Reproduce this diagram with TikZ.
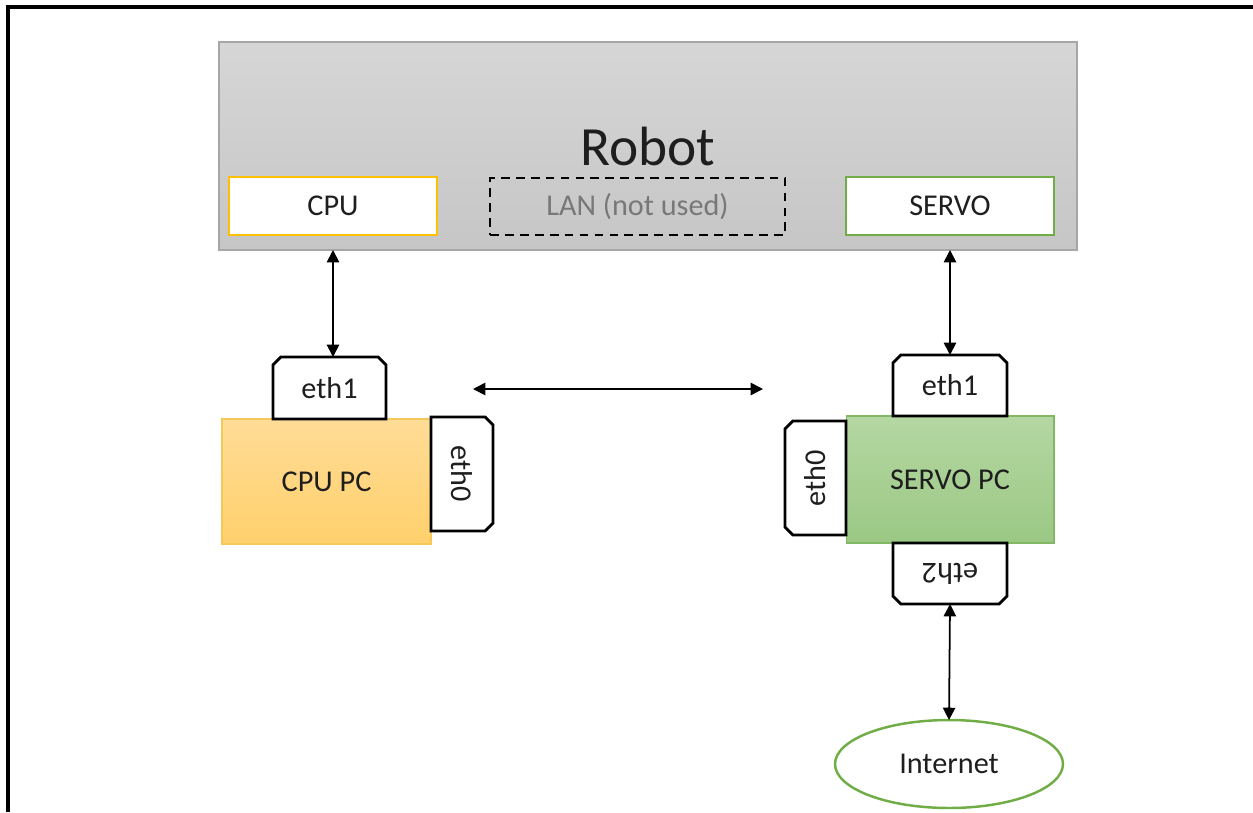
\documentclass[tikz,border=0pt]{standalone}
\usepackage{fontspec}
\setmainfont{Carlito}
\usepackage{graphicx}
\usetikzlibrary{arrows.meta,shapes.geometric}
\definecolor{robotedge}{RGB}{166,166,166}
\definecolor{robottop}{RGB}{214,214,214}
\definecolor{robotbot}{RGB}{198,198,198}
\definecolor{cpuedge}{RGB}{255,192,0}
\definecolor{cpupcedge}{RGB}{245,200,90}
\definecolor{cputop}{RGB}{255,220,150}
\definecolor{cpubot}{RGB}{255,208,108}
\definecolor{servoedge}{RGB}{112,173,71}
\definecolor{servopcedge}{RGB}{130,184,100}
\definecolor{servotop}{RGB}{181,215,163}
\definecolor{servobot}{RGB}{155,200,132}
\definecolor{txt}{RGB}{30,30,30}
\definecolor{lantxt}{RGB}{120,120,120}
\newcommand\ethtabN[1]{\draw[tabline] (#1.south west) -- ([yshift=-4.5pt]#1.north west) -- ([xshift=4.5pt]#1.north west) -- ([xshift=-4.5pt]#1.north east) -- ([yshift=-4.5pt]#1.north east) -- (#1.south east) -- cycle;}
\newcommand\ethtabS[1]{\draw[tabline] (#1.north west) -- ([yshift=4.5pt]#1.south west) -- ([xshift=4.5pt]#1.south west) -- ([xshift=-4.5pt]#1.south east) -- ([yshift=4.5pt]#1.south east) -- (#1.north east) -- cycle;}
\newcommand\ethtabE[1]{\draw[tabline] (#1.north west) -- ([xshift=-4.5pt]#1.north east) -- ([yshift=-4.5pt]#1.north east) -- ([yshift=4.5pt]#1.south east) -- ([xshift=-4.5pt]#1.south east) -- (#1.south west) -- cycle;}
\newcommand\ethtabW[1]{\draw[tabline] (#1.north east) -- ([xshift=4.5pt]#1.north west) -- ([yshift=-4.5pt]#1.north west) -- ([yshift=4.5pt]#1.south west) -- ([xshift=4.5pt]#1.south west) -- (#1.south east) -- cycle;}
\begin{document}
\begin{tikzpicture}[x=0.02cm,y=-0.02cm,
  every node/.style={text=txt,font=\fontsize{17.2}{19}\selectfont,inner sep=0pt,outer sep=0pt},
  tabline/.style={draw=black,line width=1.6pt,fill=white,line join=miter},
  conn/.style={draw=black,line width=1pt,{Triangle[length=7pt,width=7pt]}-{Triangle[length=7pt,width=7pt]}},
  portbox/.style={draw,line width=1.4pt,fill=white,minimum width=4.16cm,minimum height=1.16cm}]
\useasboundingbox (0,0) rectangle (1253,812);
% frame
\draw[line width=1.8pt] (8,812) -- (8,7) -- (1253,7);
% robot
\node[draw=robotedge,line width=0.8pt,top color=robottop,bottom color=robotbot,
  minimum width=17.16cm,minimum height=4.16cm,font=\fontsize{31.5}{36}\selectfont] (robot) at (648,146) {Robot};
\node[portbox,draw=cpuedge] (cpu) at (333,206) {CPU};
\node[draw=black,line width=1.4pt,dashed,dash pattern=on 5pt off 3.5pt,minimum width=5.9cm,minimum height=1.14cm,text=lantxt] (lan) at (637.5,206.5) {LAN (not used)};
\node[portbox,draw=servoedge] (servo) at (950,206) {SERVO};
% CPU PC
\node[draw=cpupcedge,line width=0.6pt,top color=cputop,bottom color=cpubot,minimum width=4.18cm,minimum height=2.5cm] (cpupc) at (326.5,481.5) {CPU PC};
\node[minimum width=2.26cm,minimum height=1.24cm] (cpueth1) at (329.5,388) {};
\ethtabN{cpueth1}
\node at (cpueth1) {eth1};
\node[minimum width=1.24cm,minimum height=2.28cm] (cpueth0) at (462,474) {};
\ethtabE{cpueth0}
\node at (cpueth0) {\rotatebox{-90}{eth0}};
% SERVO PC
\node[draw=servopcedge,line width=0.6pt,top color=servotop,bottom color=servobot,minimum width=4.16cm,minimum height=2.54cm] (servopc) at (950,479.5) {SERVO PC};
\node[minimum width=2.28cm,minimum height=1.22cm] (servoeth1) at (950,385.5) {};
\ethtabN{servoeth1}
\node at (servoeth1) {eth1};
\node[minimum width=1.22cm,minimum height=2.28cm] (servoeth0) at (815.5,478) {};
\ethtabW{servoeth0}
\node at (servoeth0) {\rotatebox{90}{eth0}};
\node[minimum width=2.28cm,minimum height=1.22cm] (servoeth2) at (950,573.5) {};
\ethtabS{servoeth2}
\node at (servoeth2) {\rotatebox{180}{eth2}};
% internet
\node[ellipse,draw=servoedge,line width=1.4pt,minimum width=4.56cm,minimum height=1.76cm] (internet) at (949,764) {Internet};
% connectors
\coordinate (midl) at (473,389);
\coordinate (midr) at (763,389);
\draw[conn] (cpu.south |- robot.south) -- (cpu.south |- cpueth1.north);
\draw[conn] (servo.south |- robot.south) -- (servo.south |- servoeth1.north);
\draw[conn] (midl) -- (midr);
\draw[conn] (servoeth2.south) -- (internet.north);
\end{tikzpicture}
\end{document}
